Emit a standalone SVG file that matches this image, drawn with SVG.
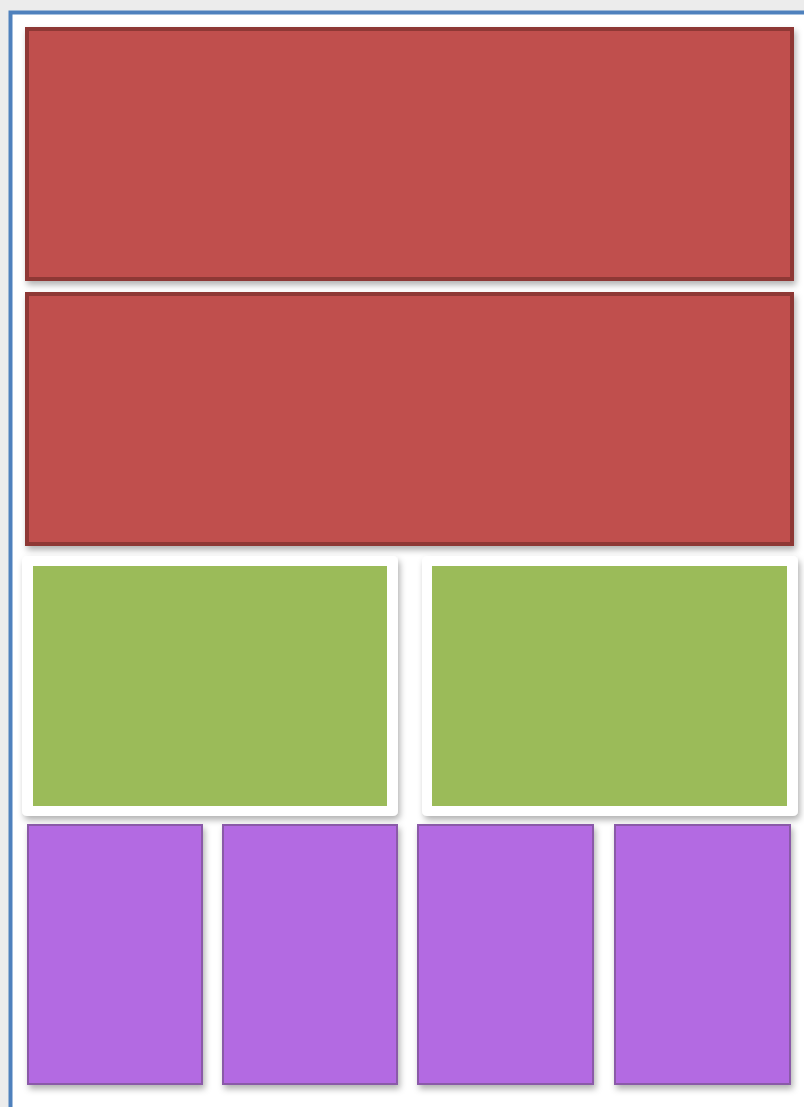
<svg xmlns="http://www.w3.org/2000/svg" width="804" height="1107" viewBox="0 0 804 1107">
<defs>
<filter id="sh" x="-10%" y="-10%" width="125%" height="125%">
<feDropShadow dx="2" dy="4" stdDeviation="3" flood-color="#000" flood-opacity="0.3"/>
</filter>
<style>
.red{fill:#c0504d;stroke:#8e3835;stroke-width:4;filter:url(#sh)}
.card{fill:#fff;filter:url(#sh)}
.green{fill:#9bbb59}
.purple{fill:#b36be2;stroke:#8a5aa8;stroke-width:2;filter:url(#sh)}
</style>
</defs>
<rect x="0" y="0" width="804" height="1107" fill="#ececec"/>
<rect x="10.5" y="12.5" width="820" height="1120" fill="#fff" stroke="#4f81bd" stroke-width="4"/>
<g id="red1"><rect class="red" x="27" y="29" width="765" height="250"/></g>
<g id="red2"><rect class="red" x="27" y="294" width="765" height="250"/></g>
<g id="green1"><rect class="card" x="22" y="556" width="376" height="260" rx="5"/><rect class="green" x="33" y="566" width="354" height="240"/></g>
<g id="green2"><rect class="card" x="422" y="556" width="376" height="260" rx="5"/><rect class="green" x="432" y="566" width="355" height="240"/></g>
<g id="p1"><rect class="purple" x="28" y="825" width="174" height="259"/></g>
<g id="p2"><rect class="purple" x="223" y="825" width="174" height="259"/></g>
<g id="p3"><rect class="purple" x="418" y="825" width="175" height="259"/></g>
<g id="p4"><rect class="purple" x="615" y="825" width="175" height="259"/></g>
<g id="connectors"></g>
</svg>
